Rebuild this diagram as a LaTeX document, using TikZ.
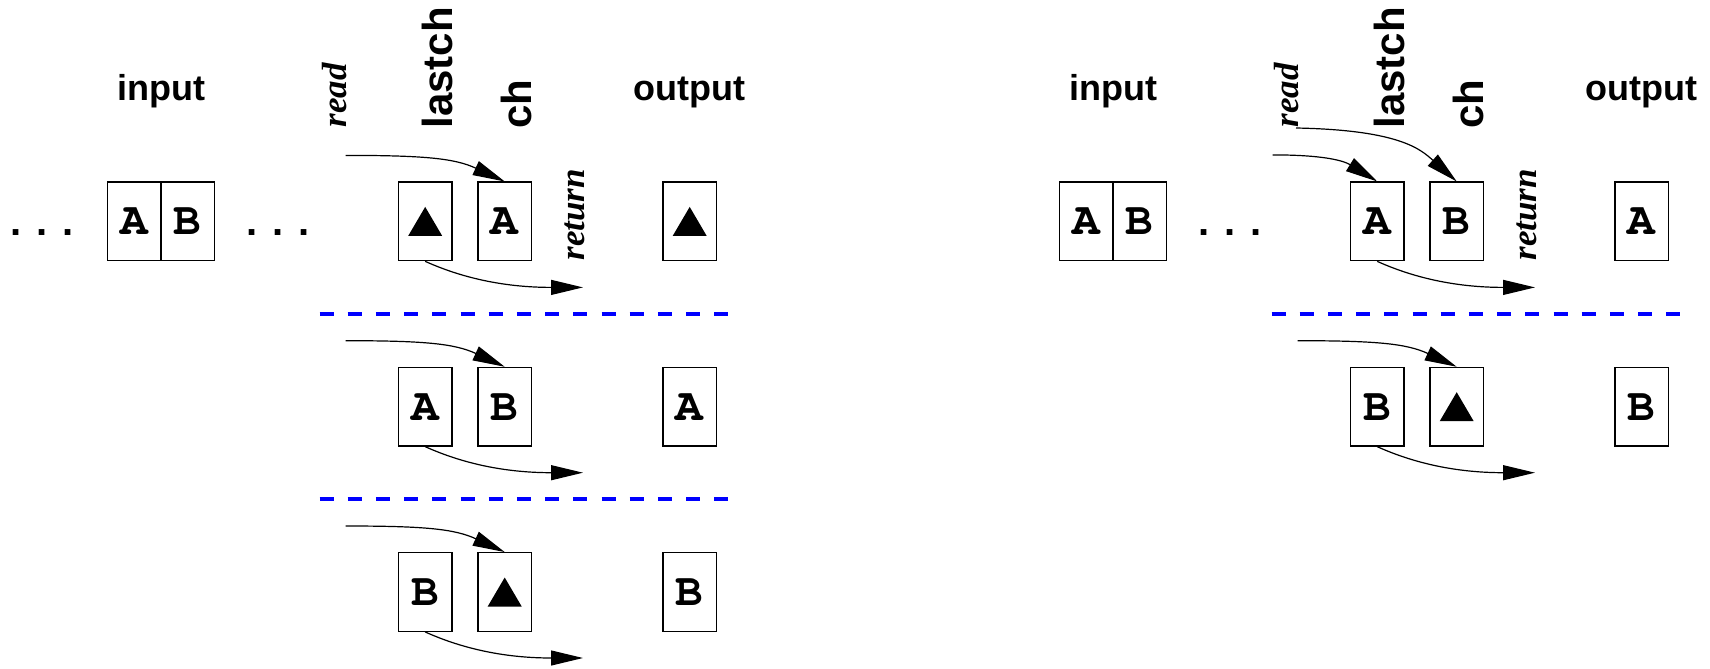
\documentclass[tikz,border=0pt]{standalone}
\usepackage{fontspec}
\setmainfont{Liberation Serif}
\setsansfont{Liberation Sans}
\setmonofont{texgyrecursor}[Extension=.otf, UprightFont=*-regular, BoldFont=*-bold]
\usetikzlibrary{arrows.meta,calc}

\begin{document}
\begin{tikzpicture}[x=0.5pt,y=-0.5pt,
  cell/.style={draw, line width=0.7pt, minimum width=26.75pt, minimum height=39.25pt,
    inner sep=0pt, font=\ttfamily\bfseries\fontsize{23}{24}\selectfont},
  tricell/.style={cell, path picture={\fill ($(path picture bounding box.center)+(-17,14.5)$)
    -- ++(34,0) -- ++(-17,-29) -- cycle;}},
  head/.style={font=\sffamily\bfseries\fontsize{18}{20}\selectfont, anchor=base, inner sep=0pt},
  var/.style={font=\sffamily\bfseries\fontsize{21}{24}\selectfont, rotate=90, anchor=base west, inner sep=0pt},
  act/.style={font=\rmfamily\bfseries\itshape\fontsize{17.5}{20}\selectfont, rotate=90, anchor=base west, inner sep=0pt},
  flow/.style={line width=0.6pt, -{Triangle[length=16pt,width=7.5pt]}},
  sep/.style={blue, line width=1.6pt, dash pattern=on 7.05pt off 7.05pt},
  dots/.style={font=\sffamily\bfseries\fontsize{20}{20}\selectfont, inner sep=0pt, anchor=base}
]
\useasboundingbox (0,0) rectangle (1710,669);

% ---------- left panel ----------
\node[head] (inL) at (161.4,100) {input};
\node[head] (outL) at (689.7,100) {output};
\node[act] (readL) at (346,128) {read};
\node[var] (lastL) at (452,129) {lastch};
\node[var] (chL) at (531,129) {ch};
\node[act] (retL) at (584,261) {return};

\node[dots] (dotsA) at (42.5,235) {\makebox[13pt]{.}\makebox[13pt]{.}\makebox[13pt]{.}};
\node[cell] (inA) at (134.2,221.4) {A};
\node[cell] (inB) at (187.7,221.4) {B};
\node[dots] (dotsB) at (277.8,235) {\makebox[13pt]{.}\makebox[13pt]{.}\makebox[13pt]{.}};

% row 1
\node[tricell] (lc1) at (425.2,221.4) {};
\node[cell] (ch1) at (504.7,221.4) {A};
\node[tricell] (out1) at (689.7,221.4) {};
\coordinate (rd1) at (345.7,155.4);
\coordinate (rt1) at (583,287.4);
\draw[flow] (rd1) .. controls +(80,0) and +(-50,-23) .. (ch1.north);
\draw[flow] (lc1.south) .. controls +(40,18) and +(-75,0) .. (rt1);

\draw[sep] (319.5,314) coordinate (s1a) -- (728.5,314) coordinate (s1b);

% row 2
\node[cell] (lc2) at (425.2,406.7) {A};
\node[cell] (ch2) at (504.7,406.7) {B};
\node[cell] (out2) at (689.7,406.7) {A};
\coordinate (rd2) at (345.7,340.7);
\coordinate (rt2) at (583,472.7);
\draw[flow] (rd2) .. controls +(80,0) and +(-50,-23) .. (ch2.north);
\draw[flow] (lc2.south) .. controls +(40,18) and +(-75,0) .. (rt2);

\draw[sep] (319.5,499) coordinate (s2a) -- (728.5,499) coordinate (s2b);

% row 3
\node[cell] (lc3) at (425.2,592) {B};
\node[tricell] (ch3) at (504.7,592) {};
\node[cell] (out3) at (689.7,592) {B};
\coordinate (rd3) at (345.7,526);
\coordinate (rt3) at (583,658);
\draw[flow] (rd3) .. controls +(80,0) and +(-50,-23) .. (ch3.north);
\draw[flow] (lc3.south) .. controls +(40,18) and +(-75,0) .. (rt3);

% ---------- right panel ----------
\node[head] (inR) at (1113.4,100) {input};
\node[head] (outR) at (1641.7,100) {output};
\node[act] (readR) at (1298,128) {read};
\node[var] (lastR) at (1404,129) {lastch};
\node[var] (chR) at (1483,129) {ch};
\node[act] (retR) at (1536,261) {return};

\node[cell] (rinA) at (1086.2,221.4) {A};
\node[cell] (rinB) at (1139.7,221.4) {B};
\node[dots] (dotsC) at (1229.8,235) {\makebox[13pt]{.}\makebox[13pt]{.}\makebox[13pt]{.}};

% row 1
\node[cell] (rlc1) at (1377.2,221.4) {A};
\node[cell] (rch1) at (1456.7,221.4) {B};
\node[cell] (rout1) at (1641.7,221.4) {A};
\coordinate (rrdA) at (1272.7,154.9);
\coordinate (rrdB) at (1296,128);
\coordinate (rrt1) at (1535,287.4);
\draw[flow] (rrdA) .. controls +(50,0) and +(-34,-21) .. (rlc1.north);
\draw[flow] (rrdB) .. controls +(104,2) and +(-36,-32) .. (rch1.north);
\draw[flow] (rlc1.south) .. controls +(40,18) and +(-75,0) .. (rrt1);

\draw[sep] (1271.5,314) coordinate (s3a) -- (1680.5,314) coordinate (s3b);

% row 2
\node[cell] (rlc2) at (1377.2,406.7) {B};
\node[tricell] (rch2) at (1456.7,406.7) {};
\node[cell] (rout2) at (1641.7,406.7) {B};
\coordinate (rrd2) at (1297.7,340.7);
\coordinate (rrt2) at (1535,472.7);
\draw[flow] (rrd2) .. controls +(80,0) and +(-50,-23) .. (rch2.north);
\draw[flow] (rlc2.south) .. controls +(40,18) and +(-75,0) .. (rrt2);
\end{tikzpicture}
\end{document}
